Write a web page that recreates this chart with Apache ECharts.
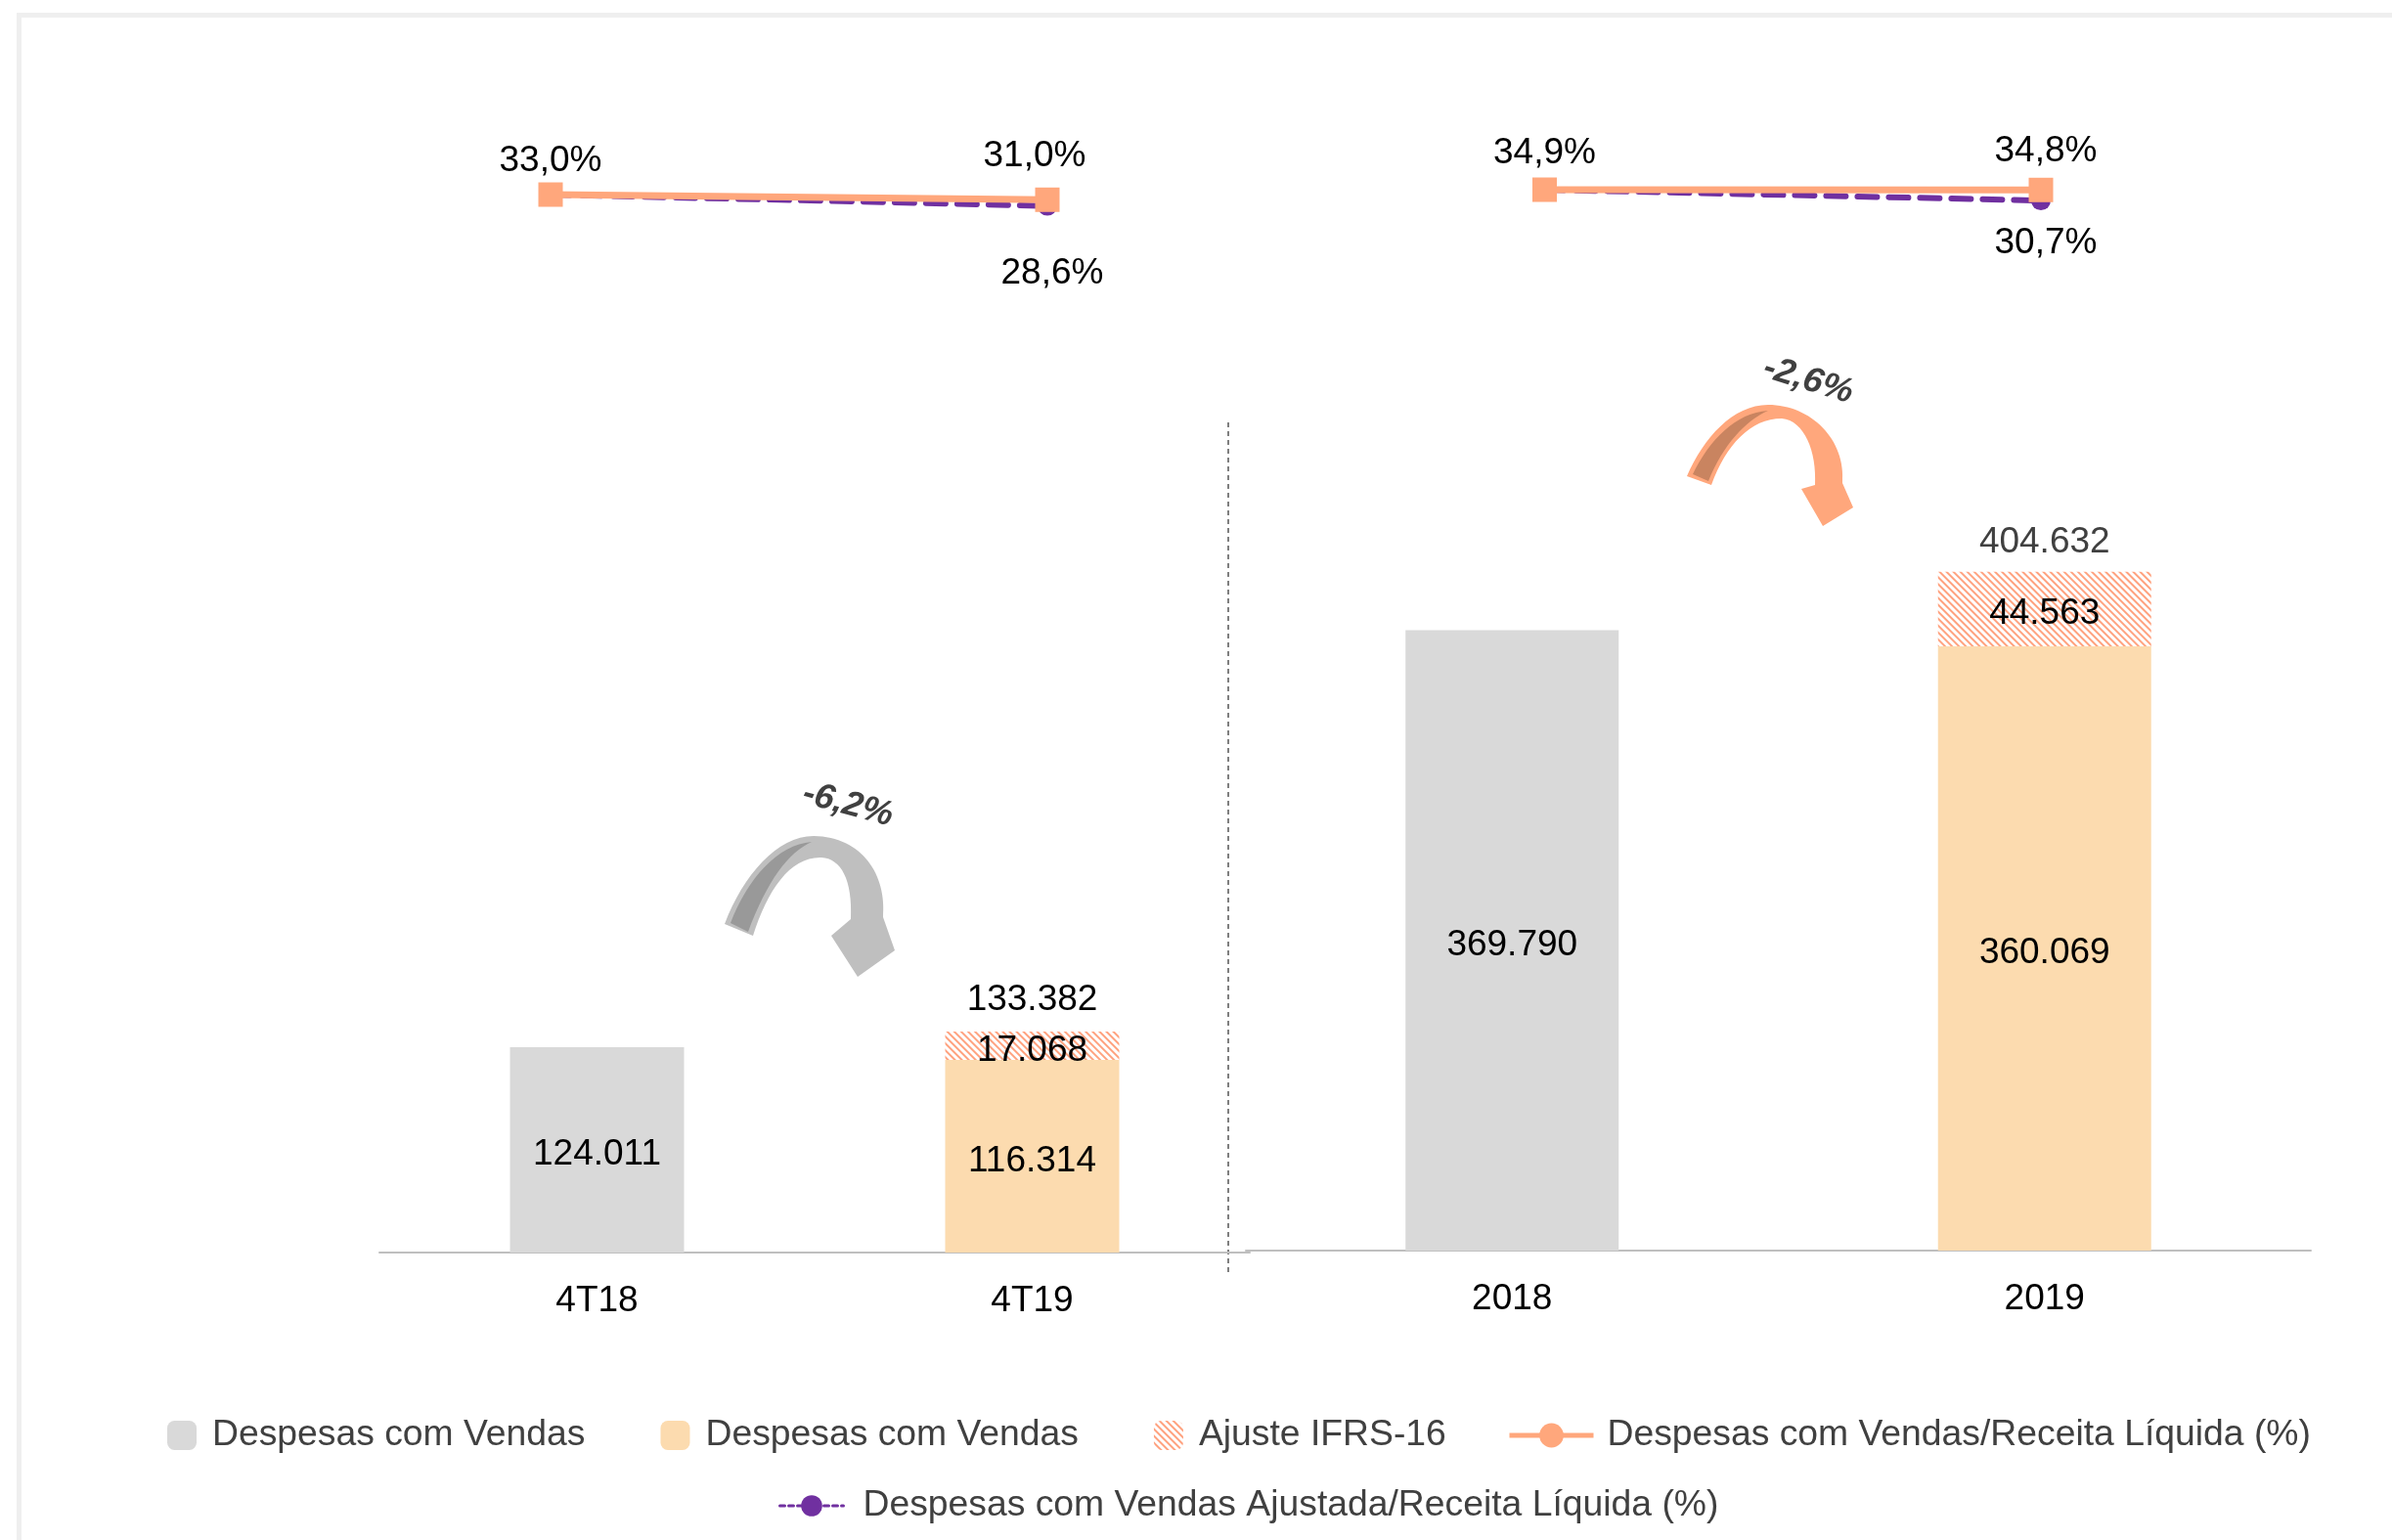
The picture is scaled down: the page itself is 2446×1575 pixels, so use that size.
<!DOCTYPE html>
<html>
<head>
<meta charset="utf-8">
<title>Despesas com Vendas</title>
<script src="https://cdn.jsdelivr.net/npm/echarts@6/dist/echarts.min.js"></script>
<style>
  html, body { margin: 0; padding: 0; background: #fff; }
  #chart { width: 2446px; height: 1575px; }
</style>
</head>
<body>
<div id="chart"></div>
<script>
// dados
var trimestres = ['4T18', '4T19'];
var anos = ['2018', '2019'];
var despesasAnterior = [124011, 369790];   // 4T18, 2018
var despesasAtual = [116314, 360069];      // 4T19, 2019
var ajusteIFRS16 = [17068, 44563];         // 4T19, 2019
var totalComAjuste = [133382, 404632];     // 4T19, 2019
var receitaPctTrim = [33.0, 31.0];
var receitaPctAno = [34.9, 34.8];
var ajustadaPctTrim = [33.0, 28.6];
var ajustadaPctAno = [34.9, 30.7];
var variacao = ['-6,2%', '-2,6%'];

var NOME_CINZA = 'Despesas com Vendas';
var NOME_LARANJA = 'Despesas com Vendas ';
var NOME_AJUSTE = 'Ajuste IFRS-16';
var NOME_LINHA = 'Despesas com Vendas/Receita Líquida (%)';
var NOME_AJUSTADA = 'Despesas com Vendas Ajustada/Receita Líquida (%)';

var FONT = '"Liberation Sans", Arial, sans-serif';
var LARANJA = '#FFA77C';
var ROXO = '#7030A0';

function fmtNum(v) {
  return String(v).replace(/\B(?=(\d{3})+(?!\d))/g, '.');
}
function fmtPct(v) {
  return v.toFixed(1).replace('.', ',') + '%';
}

var labelBase = { fontSize: 37, fontFamily: FONT, color: '#000', lineHeight: 40 };
var labelDentro = Object.assign({ show: true, position: 'inside', offset: [0, 5], formatter: function (p) { return fmtNum(p.value); } }, labelBase);
var legendText = { fontSize: 37.3, fontFamily: FONT, color: '#404040', lineHeight: 40 };

function barSeries(i, barW, totalColor, totalDist) {
  return [
    {
      name: NOME_CINZA, type: 'bar', xAxisIndex: i, yAxisIndex: i, stack: 's' + i,
      barWidth: barW, barGap: '-100%',
      data: [despesasAnterior[i], '-'],
      itemStyle: { color: '#D9D9D9' },
      label: labelDentro
    },
    {
      name: NOME_LARANJA, type: 'bar', xAxisIndex: i, yAxisIndex: i, stack: 's' + i,
      barWidth: barW, barGap: '-100%',
      data: ['-', despesasAtual[i]],
      itemStyle: { color: '#FCDBAF' },
      label: labelDentro
    },
    {
      name: NOME_AJUSTE, type: 'bar', xAxisIndex: i, yAxisIndex: i, stack: 's' + i,
      barWidth: barW, barGap: '-100%',
      data: ['-', ajusteIFRS16[i]],
      itemStyle: {
        color: '#fff',
        decal: { symbol: 'rect', symbolSize: 1, dashArrayX: [1, 0], dashArrayY: [1.5, 2.5], rotation: Math.PI / 4, color: '#FFA27F' }
      },
      label: labelDentro
    },
    {
      name: 'total', type: 'bar', xAxisIndex: i, yAxisIndex: i,
      barWidth: barW, barGap: '-100%', silent: true,
      data: ['-', totalComAjuste[i]],
      itemStyle: { color: 'rgba(0,0,0,0)' },
      label: Object.assign({}, labelBase, { show: true, position: 'top', distance: totalDist, color: totalColor, formatter: function (p) { return fmtNum(p.value); } })
    }
  ];
}

// deslocamento dos rótulos percentuais
var offReceita = [[[0, -34], [-13, -44]], [[0, -37], [5, -39]]];
var offAjustada = [[null, [5, 69]], [null, [5, 44]]];

function lineSeries(i, receita, ajustada) {
  var ax = i + 2;
  return [
    {
      name: NOME_AJUSTADA, type: 'line', xAxisIndex: ax, yAxisIndex: ax, z: 3,
      symbol: 'circle', symbolSize: 20,
      lineStyle: { color: ROXO, width: 6, type: [20, 12], cap: 'round' },
      itemStyle: { color: ROXO },
      data: ajustada.map(function (v, k) {
        var o = offAjustada[i][k];
        return { value: v, label: o ? { show: true, offset: o } : { show: false } };
      }),
      label: Object.assign({ position: 'inside', formatter: function (p) { return fmtPct(p.value); } }, labelBase)
    },
    {
      name: NOME_LINHA, type: 'line', xAxisIndex: ax, yAxisIndex: ax, z: 4,
      symbol: 'circle', symbolSize: 25,
      lineStyle: { color: LARANJA, width: 7 },
      itemStyle: { color: LARANJA },
      data: receita.map(function (v, k) {
        return { value: v, symbol: 'rect', label: { show: true, offset: offReceita[i][k] } };
      }),
      label: Object.assign({ position: 'inside', formatter: function (p) { return fmtPct(p.value); } }, labelBase)
    }
  ];
}

function catAxis(grid, data) {
  return {
    type: 'category', gridIndex: grid, data: data,
    axisLine: { show: true, lineStyle: { color: '#BFBFBF', width: 2 } },
    axisTick: { show: false },
    axisLabel: { fontSize: 37, fontFamily: FONT, color: '#000', margin: 31 }
  };
}
function hiddenCat(grid, data) {
  return { type: 'category', gridIndex: grid, data: data, boundaryGap: false, show: false };
}
function hiddenVal(grid, max) {
  return { type: 'value', gridIndex: grid, min: 0, max: max, show: false };
}

// setas curvas (decoração)
var setaCinza = 'M 741 945 C 760 895, 795 855, 832 855 C 882 856, 907 895, 903 938 L 915 972 L 877 999 L 850 957 L 870 940 C 872 900, 860 878, 840 877 C 808 876, 785 910, 770 957 Z';
var setaCinzaSombra = 'M 747 944 C 765 898, 795 864, 830 861 C 806 872, 785 900, 765 953 Z';
var setaLaranja = 'M 1725 487 C 1742 448, 1772 414, 1808 414 C 1852 414, 1888 450, 1884 494 L 1895 519 L 1864 538 L 1842 500 L 1856 496 C 1858 462, 1845 430, 1822 428 C 1790 428, 1765 455, 1750 496 Z';
var setaLaranjaSombra = 'M 1731 485 C 1748 450, 1775 422, 1808 420 C 1785 430, 1762 455, 1747 492 Z';

echarts.graphic.registerShape('setaCinza', echarts.graphic.extendPath(setaCinza, {}));
echarts.graphic.registerShape('setaCinzaSombra', echarts.graphic.extendPath(setaCinzaSombra, {}));
echarts.graphic.registerShape('setaLaranja', echarts.graphic.extendPath(setaLaranja, {}));
echarts.graphic.registerShape('setaLaranjaSombra', echarts.graphic.extendPath(setaLaranjaSombra, {}));

var chart = echarts.init(document.getElementById('chart'));
chart.setOption({
  animation: false,
  backgroundColor: '#fff',
  textStyle: { fontFamily: FONT },
  grid: [
    { left: 388, top: 300, width: 890, height: 981, containLabel: false, outerBoundsMode: 'none' },
    { left: 1274, top: 300, width: 1089, height: 979, containLabel: false, outerBoundsMode: 'none' },
    { left: 563, top: 154.3, width: 508, height: 131.5, containLabel: false, outerBoundsMode: 'none' },
    { left: 1579.5, top: 154.3, width: 507.5, height: 131.5, containLabel: false, outerBoundsMode: 'none' }
  ],
  xAxis: [
    catAxis(0, trimestres),
    catAxis(1, anos),
    hiddenCat(2, trimestres),
    hiddenCat(3, anos)
  ],
  yAxis: [
    hiddenVal(0, 579000),
    hiddenVal(1, 570500),
    hiddenVal(2, 50),
    hiddenVal(3, 50)
  ],
  legend: [
    {
      data: [NOME_CINZA, NOME_LARANJA, NOME_AJUSTE],
      left: 166, top: 1443, itemWidth: 30, itemHeight: 30, itemGap: 77,
      selectedMode: false,
      formatter: function (n) { return n.trim(); },
      textStyle: Object.assign({ padding: [0, 0, 0, 11] }, legendText)
    },
    {
      data: [NOME_LINHA],
      left: 1536, top: 1443, itemWidth: 86, itemHeight: 31,
      selectedMode: false,
      lineStyle: { width: 5 },
      textStyle: Object.assign({ padding: [0, 0, 0, 9] }, legendText)
    },
    {
      data: [NOME_AJUSTADA],
      left: 791, top: 1515, itemWidth: 65, itemHeight: 27,
      selectedMode: false,
      lineStyle: { width: 3, type: [5, 4] },
      textStyle: Object.assign({ padding: [0, 0, 0, 15] }, legendText)
    }
  ],
  graphic: [
    { type: 'rect', silent: true, z: -10, shape: { x: 19.5, y: 15.5, width: 2600, height: 1700 }, style: { fill: 'none', stroke: '#EFEFEF', lineWidth: 5 } },
    { type: 'line', silent: true, shape: { x1: 1256, y1: 432, x2: 1256, y2: 1303 }, style: { stroke: '#7F7F7F', lineWidth: 2, lineDash: [5, 4] } },
    { type: 'setaCinza', silent: true, style: { fill: '#BFBFBF' } },
    { type: 'setaCinzaSombra', silent: true, style: { fill: '#999999' } },
    { type: 'setaLaranja', silent: true, style: { fill: LARANJA } },
    { type: 'setaLaranjaSombra', silent: true, style: { fill: '#C98460' } },
    { type: 'text', silent: true, x: 867, y: 823, rotation: -15 * Math.PI / 180,
      style: { text: variacao[0], font: 'italic bold 36px ' + FONT, fill: '#404040', align: 'center', verticalAlign: 'middle' } },
    { type: 'text', silent: true, x: 1849, y: 389, rotation: -17 * Math.PI / 180,
      style: { text: variacao[1], font: 'italic bold 36px ' + FONT, fill: '#404040', align: 'center', verticalAlign: 'middle' } }
  ],
  series: [].concat(
    barSeries(0, 178, '#000', 12),
    barSeries(1, 218, '#404040', 10),
    lineSeries(0, receitaPctTrim, ajustadaPctTrim),
    lineSeries(1, receitaPctAno, ajustadaPctAno)
  )
});
</script>
</body>
</html>
